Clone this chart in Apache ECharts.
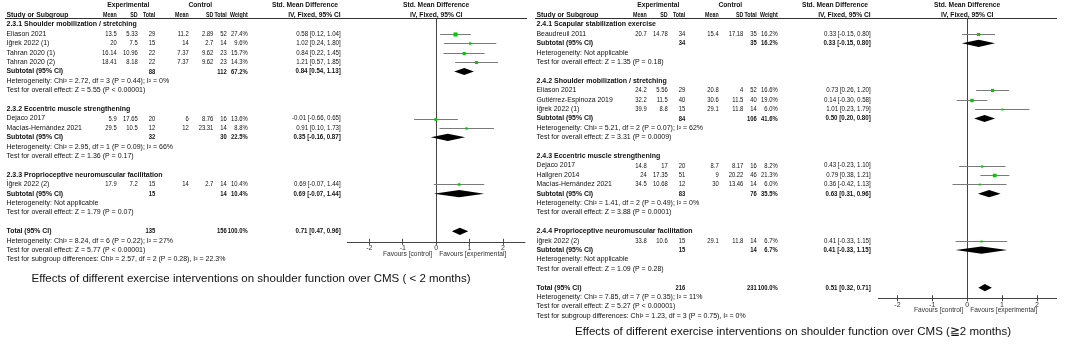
<!DOCTYPE html>
<html>
<head>
<meta charset="utf-8">
<script src="https://cdn.jsdelivr.net/npm/echarts@6/dist/echarts.min.js"></script>
<style>
  html, body { margin: 0; padding: 0; background: #fff; }
  #main { width: 1065px; height: 345px; }
</style>
</head>
<body>
<div id="main"></div>
<script>
// ---------- panel A : < 2 months ----------
const shortGroups = ['2.3.1 Shoulder mobilization / stretching', '2.3.2 Eccentric muscle strengthening', '2.3.3 Proprioceptive neuromuscular facilitation'];
const shortStudies = ['Eliason 2021', 'İğrek 2022 (1)', 'Tahran 2020 (1)', 'Tahran 2020 (2)', 'Dejaco 2017', 'Macías-Hernández 2021', 'İğrek 2022 (2)'];
const shortStudyGroup = [0, 0, 0, 0, 1, 1, 2];
const shortExpMean = [13.5, 20, 16.14, 18.41, 5.9, 29.5, 17.9];
const shortExpSd = [5.33, 7.5, 10.96, 8.18, 17.65, 10.5, 7.2];
const shortExpN = [29, 15, 22, 22, 20, 12, 15];
const shortCtlMean = [11.2, 14, 7.37, 7.37, 6, 12, 14];
const shortCtlSd = [2.89, 2.7, 9.62, 9.62, 8.76, 23.31, 2.7];
const shortCtlN = [52, 14, 23, 23, 16, 14, 14];
const shortWeight = [27.4, 9.6, 15.7, 14.3, 13.6, 8.8, 10.4];
const shortSmd = [0.58, 1.02, 0.84, 1.21, -0.01, 0.91, 0.69];
const shortLow = [0.12, 0.24, 0.22, 0.57, -0.66, 0.10, -0.07];
const shortHigh = [1.04, 1.80, 1.45, 1.85, 0.65, 1.73, 1.44];
const shortSubExpN = [88, 32, 15];
const shortSubCtlN = [112, 30, 14];
const shortSubWeight = [67.2, 22.5, 10.4];
const shortSubSmd = [0.84, 0.35, 0.69];
const shortSubLow = [0.54, -0.16, -0.07];
const shortSubHigh = [1.13, 0.87, 1.44];
const shortSubHet = ['Heterogeneity: Chi² = 2.72, df = 3 (P = 0.44); I² = 0%', 'Heterogeneity: Chi² = 2.95, df = 1 (P = 0.09); I² = 66%', 'Heterogeneity: Not applicable'];
const shortSubTest = ['Test for overall effect: Z = 5.55 (P < 0.00001)', 'Test for overall effect: Z = 1.36 (P = 0.17)', 'Test for overall effect: Z = 1.79 (P = 0.07)'];
const shortTotal = [135, 156, 100.0, 0.71, 0.47, 0.96];   // expN, ctlN, weight, smd, low, high
const shortTotalNotes = ['Heterogeneity: Chi² = 8.24, df = 6 (P = 0.22); I² = 27%', 'Test for overall effect: Z = 5.77 (P < 0.00001)', 'Test for subgroup differences: Chi² = 2.57, df = 2 (P = 0.28), I² = 22.3%'];
const shortTitle = 'Effects of different exercise interventions on shoulder function over CMS ( < 2 months)';

// ---------- panel B : >= 2 months ----------
const longGroups = ['2.4.1 Scapular stabilization exercise', '2.4.2 Shoulder mobilization / stretching', '2.4.3 Eccentric muscle strengthening', '2.4.4 Proprioceptive neuromuscular facilitation'];
const longStudies = ['Beaudreuil 2011', 'Eliason 2021', 'Gutiérrez-Espinoza 2019', 'İğrek 2022 (1)', 'Dejaco 2017', 'Hallgren 2014', 'Macías-Hernández 2021', 'İğrek 2022 (2)'];
const longStudyGroup = [0, 1, 1, 1, 2, 2, 2, 3];
const longExpMean = [20.7, 24.2, 32.2, 39.9, 14.8, 24, 34.5, 33.8];
const longExpSd = [14.78, 5.56, 11.5, 8.8, 17, 17.35, 10.68, 10.6];
const longExpN = [34, 29, 40, 15, 20, 51, 12, 15];
const longCtlMean = [15.4, 20.8, 30.6, 29.1, 8.7, 9, 30, 29.1];
const longCtlSd = [17.18, 4, 11.5, 11.8, 8.17, 20.22, 13.46, 11.8];
const longCtlN = [35, 52, 40, 14, 16, 46, 14, 14];
const longWeight = [16.2, 16.6, 19.0, 6.0, 8.2, 21.3, 6.0, 6.7];
const longSmd = [0.33, 0.73, 0.14, 1.01, 0.43, 0.79, 0.36, 0.41];
const longLow = [-0.15, 0.26, -0.30, 0.23, -0.23, 0.38, -0.42, -0.33];
const longHigh = [0.80, 1.20, 0.58, 1.79, 1.10, 1.21, 1.13, 1.15];
const longSubExpN = [34, 84, 83, 15];
const longSubCtlN = [35, 106, 76, 14];
const longSubWeight = [16.2, 41.6, 35.5, 6.7];
const longSubSmd = [0.33, 0.50, 0.63, 0.41];
const longSubLow = [-0.15, 0.20, 0.31, -0.33];
const longSubHigh = [0.80, 0.80, 0.96, 1.15];
const longSubHet = ['Heterogeneity: Not applicable', 'Heterogeneity: Chi² = 5.21, df = 2 (P = 0.07); I² = 62%', 'Heterogeneity: Chi² = 1.41, df = 2 (P = 0.49); I² = 0%', 'Heterogeneity: Not applicable'];
const longSubTest = ['Test for overall effect: Z = 1.35 (P = 0.18)', 'Test for overall effect: Z = 3.31 (P = 0.0009)', 'Test for overall effect: Z = 3.88 (P = 0.0001)', 'Test for overall effect: Z = 1.09 (P = 0.28)'];
const longTotal = [216, 231, 100.0, 0.51, 0.32, 0.71];
const longTotalNotes = ['Heterogeneity: Chi² = 7.85, df = 7 (P = 0.35); I² = 11%', 'Test for overall effect: Z = 5.27 (P < 0.00001)', 'Test for subgroup differences: Chi² = 1.23, df = 3 (P = 0.75), I² = 0%'];
const longTitle = 'Effects of different exercise interventions on shoulder function over CMS (≧2 months)';

const axisTicks = [-2, -1, 0, 1, 2];
const favours = ['Favours [control]', 'Favours [experimental]'];

// 布局常量
const FF = 'Arial, "Liberation Sans", sans-serif';
const ROW_TOP = 24.5, ROW_H = 9.4, LINE_Y = 18.5;
const COL = { label: 6.5, eMean: 116.7, eSd: 137.7, eN: 155.3, cMean: 188.7, cSd: 213.3, cN: 226.7, w: 247.7, ci: 340.7 };
const LAB = { size: 6.9 };                 // 研究名 / 说明
const NUM = { size: 7.5, sx: 0.78 };       // 数值列
const CIS = { size: 7, sx: 0.88 };         // 95% CI 列
const HDR = { size: 6.7, bold: true };     // 表头

const panels = [
  {
    off: 0, groups: shortGroups, studies: shortStudies, sg: shortStudyGroup,
    eM: shortExpMean, eS: shortExpSd, eN: shortExpN, cM: shortCtlMean, cS: shortCtlSd, cN: shortCtlN,
    w: shortWeight, smd: shortSmd, lo: shortLow, hi: shortHigh,
    subEN: shortSubExpN, subCN: shortSubCtlN, subW: shortSubWeight, subSmd: shortSubSmd, subLo: shortSubLow, subHi: shortSubHigh,
    het: shortSubHet, test: shortSubTest, total: shortTotal, notes: shortTotalNotes, title: shortTitle,
    grid: { left: 347.3, width: 177.7 }, xMin: -2.66, xMax: 2.66, titleX: 251, titleY: 278.7
  },
  {
    off: 530, groups: longGroups, studies: longStudies, sg: longStudyGroup,
    eM: longExpMean, eS: longExpSd, eN: longExpN, cM: longCtlMean, cS: longCtlSd, cN: longCtlN,
    w: longWeight, smd: longSmd, lo: longLow, hi: longHigh,
    subEN: longSubExpN, subCN: longSubCtlN, subW: longSubWeight, subSmd: longSubSmd, subLo: longSubLow, subHi: longSubHigh,
    het: longSubHet, test: longSubTest, total: longTotal, notes: longTotalNotes, title: longTitle,
    grid: { left: 878.3, width: 178.4 }, xMin: -2.55, xMax: 2.57, titleX: 793, titleY: 331.7
  }
];

const ci = (m, l, h) => m.toFixed(2) + ' [' + l.toFixed(2) + ', ' + h.toFixed(2) + ']';

// 行结构
function buildRows(p) {
  const rows = [];
  p.groups.forEach((g, gi) => {
    rows.push({ kind: 'group', text: g });
    p.sg.forEach((s, si) => { if (s === gi) rows.push({ kind: 'study', i: si }); });
    rows.push({ kind: 'sub', g: gi });
    rows.push({ kind: 'note', text: p.het[gi] });
    rows.push({ kind: 'note', text: p.test[gi] });
    rows.push({ kind: 'blank' });
  });
  rows.push({ kind: 'total' });
  p.notes.forEach(t => rows.push({ kind: 'note', text: t }));
  return rows;
}

// 文字元素
function txt(x, y, s, align, f, extra) {
  const o = Object.assign({}, f || LAB, extra || {});
  return {
    type: 'text', x: x, y: y, scaleX: o.sx || 1, silent: true,
    style: {
      text: String(s), fontSize: o.size || 7, fontFamily: FF, fontWeight: o.bold ? 'bold' : 'normal',
      fill: o.fill || '#111', align: align || 'left', verticalAlign: 'middle'
    }
  };
}
const B = { bold: true };

const grids = [], xAxes = [], yAxes = [], series = [], graphics = [];

panels.forEach((p, k) => {
  const rows = buildRows(p);
  const totalRow = rows.findIndex(r => r.kind === 'total');
  const yMin = (LINE_Y - ROW_TOP) / ROW_H;
  const yMax = totalRow + 1.12;

  grids.push({ left: p.grid.left, width: p.grid.width, top: LINE_Y, height: (yMax - yMin) * ROW_H });

  xAxes.push({
    gridIndex: k, type: 'value', min: p.xMin, max: p.xMax, position: 'bottom',
    axisLine: { show: true, onZero: false, lineStyle: { color: '#444', width: 1 } },
    axisTick: { show: true, customValues: axisTicks, length: 3, lineStyle: { color: '#444' } },
    axisLabel: { customValues: axisTicks, fontSize: 7, fontFamily: FF, color: '#333', margin: 3 },
    splitLine: { show: false }
  });
  xAxes.push({
    gridIndex: k, type: 'value', min: p.xMin, max: p.xMax, position: 'bottom',
    axisLine: { show: false, onZero: false },
    axisTick: { show: true, inside: true, customValues: axisTicks, length: 3, lineStyle: { color: '#444' } },
    axisLabel: { show: false }, splitLine: { show: false }
  });
  yAxes.push({
    gridIndex: k, type: 'value', inverse: true, min: yMin, max: yMax,
    axisLine: { show: true, onZero: true, lineStyle: { color: '#444', width: 1 } },
    axisTick: { show: false }, axisLabel: { show: false }, splitLine: { show: false }
  });

  const xi = k * 2, yi = k;
  const o = p.off;

  // 表格文字
  series.push({
    type: 'custom', xAxisIndex: xi, yAxisIndex: yi, clip: false, silent: true,
    data: rows.map((r, i) => [0, i]),
    renderItem: function (params, api) {
      const r = rows[params.dataIndex];
      const y = api.coord([0, api.value(1)])[1];
      const c = [];
      if (r.kind === 'group') {
        c.push(txt(o + COL.label, y, r.text, 'left', { size: 7, bold: true }));
      } else if (r.kind === 'study') {
        const i = r.i;
        c.push(txt(o + COL.label, y, p.studies[i]));
        c.push(txt(o + COL.eMean, y, p.eM[i], 'right', NUM));
        c.push(txt(o + COL.eSd, y, p.eS[i], 'right', NUM));
        c.push(txt(o + COL.eN, y, p.eN[i], 'right', NUM));
        c.push(txt(o + COL.cMean, y, p.cM[i], 'right', NUM));
        c.push(txt(o + COL.cSd, y, p.cS[i], 'right', NUM));
        c.push(txt(o + COL.cN, y, p.cN[i], 'right', NUM));
        c.push(txt(o + COL.w, y, p.w[i].toFixed(1) + '%', 'right', NUM));
        c.push(txt(o + COL.ci, y, ci(p.smd[i], p.lo[i], p.hi[i]), 'right', CIS));
      } else if (r.kind === 'sub' || r.kind === 'total') {
        const v = r.kind === 'sub'
          ? [p.subEN[r.g], p.subCN[r.g], p.subW[r.g], p.subSmd[r.g], p.subLo[r.g], p.subHi[r.g]]
          : p.total;
        c.push(txt(o + COL.label, y, r.kind === 'sub' ? 'Subtotal (95% CI)' : 'Total (95% CI)', 'left', LAB, B));
        c.push(txt(o + COL.eN, y, v[0], 'right', NUM, B));
        c.push(txt(o + COL.cN, y, v[1], 'right', NUM, B));
        c.push(txt(o + COL.w, y, v[2].toFixed(1) + '%', 'right', NUM, B));
        c.push(txt(o + COL.ci, y, ci(v[3], v[4], v[5]), 'right', CIS, B));
      } else if (r.kind === 'note') {
        c.push(txt(o + COL.label, y, r.text, 'left', { size: 7 }));
      }
      return { type: 'group', children: c };
    }
  });

  // 研究: CI 线 + 方块
  const studyRow = p.studies.map((s, i) => rows.findIndex(r => r.kind === 'study' && r.i === i));
  series.push({
    type: 'custom', xAxisIndex: xi, yAxisIndex: yi, clip: false, silent: true,
    data: p.studies.map((s, i) => [p.smd[i], p.lo[i], p.hi[i], p.w[i], studyRow[i]]),
    renderItem: function (params, api) {
      const row = api.value(4);
      const a = api.coord([api.value(1), row]);
      const b = api.coord([api.value(2), row]);
      const m = api.coord([api.value(0), row]);
      const yy = Math.round(m[1]) + 0.5;
      const sz = Math.max(1.6, Math.sqrt(api.value(3)) * 0.78);
      return {
        type: 'group', children: [
          { type: 'line', shape: { x1: a[0], y1: yy, x2: b[0], y2: yy }, style: { stroke: '#7a7a7a', lineWidth: 1 } },
          { type: 'rect', shape: { x: m[0] - sz / 2, y: yy - sz / 2, width: sz, height: sz }, style: { fill: '#00c800' } }
        ]
      };
    }
  });

  // 菱形: 亚组 + 合计
  const subRow = p.groups.map((g, gi) => rows.findIndex(r => r.kind === 'sub' && r.g === gi));
  const dData = p.groups.map((g, gi) => [p.subSmd[gi], p.subLo[gi], p.subHi[gi], subRow[gi]]);
  dData.push([p.total[3], p.total[4], p.total[5], totalRow]);
  series.push({
    type: 'custom', xAxisIndex: xi, yAxisIndex: yi, clip: false, silent: true,
    data: dData,
    renderItem: function (params, api) {
      const row = api.value(3);
      const m = api.coord([api.value(0), row]);
      const a = api.coord([api.value(1), row]);
      const b = api.coord([api.value(2), row]);
      const h = 3.6;
      return {
        type: 'polygon',
        shape: { points: [[a[0], m[1]], [m[0], m[1] - h], [b[0], m[1]], [m[0], m[1] + h]] },
        style: { fill: '#000' }
      };
    }
  });

  // 图区表头与 favours
  series.push({
    type: 'custom', xAxisIndex: xi, yAxisIndex: yi, clip: false, silent: true,
    data: [[0, yMax]],
    renderItem: function (params, api) {
      const z = api.coord([0, api.value(1)]);
      const fv = { size: 6.6, fill: '#333' };
      return {
        type: 'group', children: [
          txt(z[0], 5, 'Std. Mean Difference', 'center', HDR),
          txt(z[0], 14.7, 'IV, Fixed, 95% CI', 'center', HDR),
          txt(z[0] - 4, z[1] + 12, favours[0], 'right', fv),
          txt(z[0] + 3, z[1] + 12, favours[1], 'left', fv)
        ]
      };
    }
  });

  // 表头文字
  const hy1 = 5, hy2 = 14.7;
  const HN = { size: 7, bold: true, sx: 0.76 };
  graphics.push(txt(o + 128.3, hy1, 'Experimental', 'center', HDR));
  graphics.push(txt(o + 200.3, hy1, 'Control', 'center', HDR));
  graphics.push(txt(o + 305, hy1, 'Std. Mean Difference', 'center', HDR));
  graphics.push(txt(o + COL.label, hy2, 'Study or Subgroup', 'left', { size: 6.85, bold: true }));
  graphics.push(txt(o + COL.eMean, hy2, 'Mean', 'right', HN));
  graphics.push(txt(o + COL.eSd, hy2, 'SD', 'right', HN));
  graphics.push(txt(o + COL.eN, hy2, 'Total', 'right', HN));
  graphics.push(txt(o + COL.cMean, hy2, 'Mean', 'right', HN));
  graphics.push(txt(o + COL.cSd, hy2, 'SD', 'right', HN));
  graphics.push(txt(o + COL.cN, hy2, 'Total', 'right', HN));
  graphics.push(txt(o + COL.w, hy2, 'Weight', 'right', HN));
  graphics.push(txt(o + COL.ci, hy2, 'IV, Fixed, 95% CI', 'right', HDR));
  graphics.push({
    type: 'line', silent: true,
    shape: { x1: o + 5, y1: LINE_Y, x2: o + 527, y2: LINE_Y },
    style: { stroke: '#333', lineWidth: 1 }
  });
  // 标题
  graphics.push({
    type: 'text', x: p.titleX, y: p.titleY, silent: true,
    style: { text: p.title, fontSize: 11.5, fontFamily: FF, fill: '#111', align: 'center', verticalAlign: 'middle' }
  });
});

const chart = echarts.init(document.getElementById('main'), null, { renderer: 'canvas', width: 1065, height: 345 });
chart.setOption({
  animation: false,
  backgroundColor: '#fff',
  grid: grids,
  xAxis: xAxes,
  yAxis: yAxes,
  series: series,
  graphic: { elements: graphics }
});
</script>
</body>
</html>
